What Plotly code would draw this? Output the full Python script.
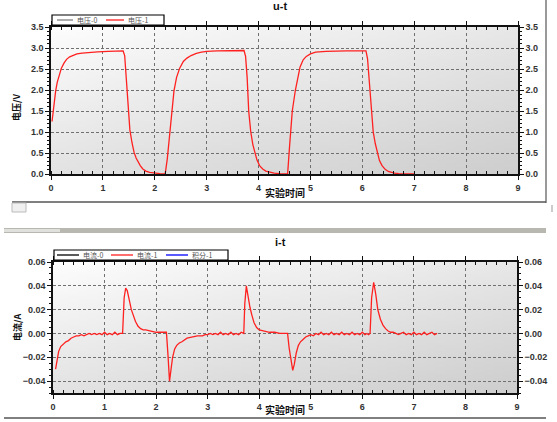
import base64
import struct
import zlib

import plotly.graph_objects as go

# u-t : 电压-1
u_t = [0.02, 0.04, 0.06, 0.09, 0.12, 0.16, 0.20, 0.25, 0.30, 0.36, 0.42, 0.50, 0.60, 0.75, 0.90, 1.10, 1.30, 1.39,
       1.42, 1.45, 1.48, 1.52, 1.56, 1.60, 1.64, 1.68, 1.72, 1.77, 1.83, 1.90, 2.00, 2.10, 2.20,
       2.24, 2.28, 2.33, 2.37, 2.42, 2.48, 2.55, 2.62, 2.70, 2.80, 2.90, 3.00, 3.20, 3.40, 3.60, 3.72,
       3.75, 3.78, 3.81, 3.85, 3.89, 3.93, 3.97, 4.02, 4.08, 4.14, 4.20, 4.30, 4.40, 4.50, 4.56,
       4.60, 4.65, 4.71, 4.76, 4.80, 4.86, 4.92, 5.00, 5.10, 5.30, 5.50, 5.70, 5.90, 6.07,
       6.10, 6.13, 6.17, 6.21, 6.25, 6.29, 6.33, 6.38, 6.44, 6.50, 6.55, 6.62, 6.70, 6.85, 7.00]
u_v = [1.25, 1.50, 1.72, 1.98, 2.18, 2.38, 2.52, 2.64, 2.73, 2.79, 2.82, 2.86, 2.88, 2.90, 2.91, 2.92, 2.93, 2.93,
       2.82, 2.30, 1.55, 1.05, 0.75, 0.52, 0.38, 0.27, 0.20, 0.12, 0.07, 0.04, 0.02, 0.01, 0.00,
       0.35, 0.85, 1.50, 1.98, 2.30, 2.52, 2.68, 2.76, 2.82, 2.87, 2.90, 2.92, 2.93, 2.94, 2.94, 2.94,
       2.80, 2.30, 1.50, 1.00, 0.70, 0.50, 0.33, 0.20, 0.12, 0.07, 0.05, 0.02, 0.01, 0.00, 0.00,
       0.70, 1.50, 2.00, 2.35, 2.55, 2.72, 2.80, 2.86, 2.90, 2.92, 2.93, 2.93, 2.93, 2.93,
       2.75, 2.20, 1.50, 1.00, 0.72, 0.50, 0.32, 0.20, 0.11, 0.06, 0.04, 0.02, 0.01, 0.00, 0.00]

# i-t : 电流-1
i_t = [0.05, 0.08, 0.11, 0.15, 0.20, 0.25, 0.30, 0.35, 0.40, 0.45, 0.50, 0.55, 0.60, 0.65, 0.70, 0.75, 0.80,
       0.85, 0.90, 0.95, 1.00, 1.05, 1.10, 1.15, 1.20, 1.25, 1.30, 1.35,
       1.38, 1.41, 1.44, 1.48, 1.52, 1.56, 1.60, 1.65, 1.70, 1.75, 1.80, 1.90, 2.00, 2.10, 2.20,
       2.23, 2.26, 2.29, 2.32, 2.36, 2.40, 2.45, 2.50, 2.60, 2.70, 2.80, 2.90, 2.95, 3.00, 3.05, 3.10,
       3.15, 3.20, 3.25, 3.30, 3.35, 3.40, 3.45, 3.50, 3.55, 3.60, 3.65, 3.70,
       3.72, 3.75, 3.78, 3.82, 3.86, 3.90, 3.95, 4.00, 4.10, 4.20, 4.30, 4.40, 4.50, 4.55,
       4.58, 4.62, 4.65, 4.68, 4.72, 4.76, 4.80, 4.85, 4.90, 4.95, 5.00, 5.05, 5.10, 5.15, 5.20,
       5.25, 5.30, 5.35, 5.40, 5.45, 5.50, 5.55, 5.60, 5.65, 5.70, 5.75, 5.80, 5.85, 5.90, 5.95,
       6.00, 6.05, 6.09,
       6.12, 6.15, 6.18, 6.22, 6.26, 6.30, 6.35, 6.40, 6.45, 6.50, 6.55, 6.60, 6.65, 6.70, 6.75,
       6.80, 6.85, 6.90, 6.95, 7.00, 7.05, 7.10, 7.15, 7.20, 7.25, 7.30, 7.35, 7.40, 7.45]
i_v = [-0.030, -0.024, -0.015, -0.011, -0.009, -0.007, -0.006, -0.004, -0.003, -0.002, -0.002, -0.001, -0.002,
       -0.001, 0.000, -0.001, 0.000, -0.001, 0.000, -0.001, 0.001, -0.001, 0.000, -0.001, 0.001, -0.001, 0.000, 0.000,
       0.030, 0.038, 0.036, 0.028, 0.020, 0.015, 0.010, 0.006, 0.004, 0.003, 0.003, 0.002, 0.001, 0.001, 0.001,
       -0.018, -0.040, -0.030, -0.020, -0.013, -0.010, -0.008, -0.007, -0.004, -0.003, -0.002, -0.002, -0.001,
       -0.001, 0.000, -0.001, 0.000, -0.001, 0.001, -0.001, 0.000, -0.001, 0.001, -0.001, 0.000, -0.001, 0.001, 0.000,
       0.025, 0.040, 0.032, 0.022, 0.015, 0.009, 0.005, 0.003, 0.002, 0.001, 0.001, 0.000, 0.000, 0.000,
       -0.012, -0.025, -0.031, -0.026, -0.016, -0.010, -0.007, -0.005, -0.003, -0.002, -0.001, -0.002, 0.000,
       -0.001, 0.001, -0.001, 0.000, -0.001, 0.001, -0.001, 0.000, -0.001, 0.001, -0.001, 0.000, -0.001, 0.001,
       -0.001, 0.000, -0.001, 0.001, -0.001, 0.000, -0.001, 0.000,
       0.030, 0.043, 0.033, 0.020, 0.012, 0.007, 0.004, 0.002, 0.001, 0.001, 0.000, -0.001, 0.000, 0.001, -0.001,
       0.000, -0.001, 0.001, -0.001, 0.000, -0.001, 0.001, -0.001, 0.000, 0.001, -0.001, 0.000, -0.001, 0.000]

top_legend = ['电压-0', '电压-1']
top_colors = ['#808080', '#ff2020']
bot_legend = ['电流-0', '电流-1', '积分-1']
bot_colors = ['#000000', '#ff2020', '#0000ff']

W, H = 557, 422
RED = '#ff2020'
GRID = '#707070'
TICKFONT = dict(family='Liberation Sans', size=9, color='#333333', weight='bold')
CJK = 'Noto Sans CJK SC'


def px(x):
    return x / W


def py(y):
    return 1 - y / H


def gradient_png(w=48, h=48, c0=253, c1=206):
    # light top-left to darker bottom-right, like the panel background
    raw = b''
    for j in range(h):
        row = b'\x00'
        for i in range(w):
            t = 0.45 * i / (w - 1) + 0.55 * j / (h - 1)
            c = int(c0 - (c0 - c1) * t)
            row += bytes([c, c, c])
        raw += row

    def chunk(tag, data):
        return struct.pack('>I', len(data)) + tag + data + struct.pack('>I', zlib.crc32(tag + data) & 0xffffffff)

    png = b'\x89PNG\r\n\x1a\n' + chunk(b'IHDR', struct.pack('>IIBBBBB', w, h, 8, 2, 0, 0, 0)) \
        + chunk(b'IDAT', zlib.compress(raw)) + chunk(b'IEND', b'')
    return 'data:image/png;base64,' + base64.b64encode(png).decode()


BG = gradient_png()

fig = go.Figure()

# top: u-t  (second copy on the right-hand axis so that axis gets drawn)
fig.add_trace(go.Scatter(x=u_t, y=u_v, mode='lines', name='电压-1', line=dict(color=RED, width=1.3),
                         xaxis='x', yaxis='y'))
fig.add_trace(go.Scatter(x=u_t, y=u_v, mode='lines', line=dict(color='rgba(0,0,0,0)', width=0),
                         xaxis='x', yaxis='y3', hoverinfo='skip'))
# bottom: i-t
fig.add_trace(go.Scatter(x=i_t, y=i_v, mode='lines', name='电流-1', line=dict(color=RED, width=1.3),
                         xaxis='x2', yaxis='y2'))
fig.add_trace(go.Scatter(x=i_t, y=i_v, mode='lines', line=dict(color='rgba(0,0,0,0)', width=0),
                         xaxis='x2', yaxis='y4', hoverinfo='skip'))

xcommon = dict(range=[0, 9], dtick=1, tick0=0, showgrid=True, gridcolor=GRID, griddash='dot', gridwidth=1,
               showline=True, linecolor='#111111', linewidth=1.5, mirror='ticks', ticks='outside', ticklen=4,
               tickcolor='#111111', tickfont=TICKFONT, zeroline=False, automargin=False,
               minor=dict(dtick=0.2, ticks='inside', ticklen=3, tickcolor='#111111'))
ycommon = dict(showgrid=True, gridcolor=GRID, griddash='3px,2px', gridwidth=1, showline=True, linecolor='#111111',
               linewidth=1.5, ticks='outside', ticklen=4, tickcolor='#111111', tickfont=TICKFONT,
               zeroline=False, automargin=False)

top_dom = [py(174), py(27)]
bot_dom = [py(393), py(262)]

fig.update_layout(
    width=W, height=H, template='none',
    margin=dict(l=0, r=0, t=0, b=0),
    paper_bgcolor='white', plot_bgcolor='rgba(0,0,0,0)',
    showlegend=False,
    xaxis=dict(xcommon, domain=[px(51), px(518)], anchor='y'),
    yaxis=dict(ycommon, domain=top_dom, anchor='x', range=[0, 3.5], dtick=0.5, tickformat='.1f',
               minor=dict(dtick=0.1, ticks='outside', ticklen=2, tickcolor='#111111')),
    yaxis3=dict(ycommon, overlaying='y', side='right', anchor='x', range=[0, 3.5], dtick=0.5, tickformat='.1f',
                showgrid=False, minor=dict(dtick=0.1, ticks='outside', ticklen=2, tickcolor='#111111')),
    xaxis2=dict(xcommon, domain=[px(53), px(517)], anchor='y2'),
    yaxis2=dict(ycommon, domain=bot_dom, anchor='x2', range=[-0.05, 0.06], dtick=0.02, tick0=0,
                tickformat='.2f', minor=dict(dtick=0.005, ticks='outside', ticklen=2, tickcolor='#111111')),
    yaxis4=dict(ycommon, overlaying='y2', side='right', anchor='x2', range=[-0.05, 0.06], dtick=0.02, tick0=0,
                tickformat='.2f', showgrid=False,
                minor=dict(dtick=0.005, ticks='outside', ticklen=2, tickcolor='#111111')),
    images=[dict(source=BG, xref='x domain', yref='y domain', x=0, y=1, sizex=1, sizey=1,
                 sizing='stretch', layer='below'),
            dict(source=BG, xref='x2 domain', yref='y2 domain', x=0, y=1, sizex=1, sizey=1,
                 sizing='stretch', layer='below')],
)

ann = [
    dict(text='<b>u-t</b>', x=px(280), y=py(6), font=dict(family='Liberation Sans', size=11, color='#111111')),
    dict(text='<b>i-t</b>', x=px(280), y=py(242), font=dict(family='Liberation Sans', size=11, color='#111111')),
    dict(text='<b>电压/V</b>', x=px(17), y=py(108), textangle=-90, font=dict(family=CJK, size=9, color='#111111')),
    dict(text='<b>电流/A</b>', x=px(17), y=py(328), textangle=-90, font=dict(family=CJK, size=9, color='#111111')),
    dict(text='<b>实验时间</b>', x=px(285), y=py(192), font=dict(family=CJK, size=10, color='#111111')),
    dict(text='<b>实验时间</b>', x=px(285), y=py(409), font=dict(family=CJK, size=10, color='#111111')),
]
for a in ann:
    fig.add_annotation(xref='paper', yref='paper', showarrow=False, xanchor='center', yanchor='middle', **a)

# compact legends drawn like the original control: box, line sample, label
legend_specs = [
    (top_legend, top_colors, 52, 164, 15, 25, [(57, 73, 76), (106, 124, 127)]),
    (bot_legend, bot_colors, 54, 228, 250, 260, [(57, 79, 82), (111, 133, 136), (166, 188, 191)]),
]
for names, colors, bx0, bx1, by0, by1, slots in legend_specs:
    fig.add_shape(type='rect', xref='paper', yref='paper', x0=px(bx0), x1=px(bx1), y0=py(by1), y1=py(by0),
                  line=dict(color='#000000', width=1.2), fillcolor='white')
    ym = (by0 + by1) / 2
    for name, color, (lx0, lx1, tx) in zip(names, colors, slots):
        fig.add_shape(type='line', xref='paper', yref='paper', x0=px(lx0), x1=px(lx1), y0=py(ym), y1=py(ym),
                      line=dict(color=color, width=1.3))
        fig.add_annotation(xref='paper', yref='paper', x=px(tx), y=py(ym), text=name, showarrow=False,
                           xanchor='left', yanchor='middle', font=dict(family=CJK, size=7, color='#555555'),
                           borderpad=0)

# window chrome: separators and scrollbars
shapes = [
    dict(type='line', x0=px(546), x1=px(546), y0=py(0), y1=py(203), line=dict(color='#777777', width=1.5)),
    dict(type='line', x0=px(12), x1=px(546), y0=py(202), y1=py(202), line=dict(color='#555555', width=1.5)),
    dict(type='rect', x0=px(12), x1=px(26), y0=py(212), y1=py(203), line=dict(color='#bbbbbb', width=1),
         fillcolor='#f0f0f0'),
    dict(type='rect', x0=px(4), x1=px(546), y0=py(233), y1=py(228), line=dict(width=0), fillcolor='#b8b8b0'),
    dict(type='rect', x0=px(4), x1=px(60), y0=py(232), y1=py(229), line=dict(width=0), fillcolor='#e0e0dc'),
    dict(type='line', x0=px(4), x1=px(546), y0=py(418), y1=py(418), line=dict(color='#555555', width=1.5)),
    dict(type='line', x0=px(552), x1=px(552), y0=py(205), y1=py(212), line=dict(color='#999999', width=1)),
]
for s in shapes:
    fig.add_shape(xref='paper', yref='paper', **s)

fig.write_html("out.html", config={'displayModeBar': False},
               post_script="document.body.style.margin='0';")
